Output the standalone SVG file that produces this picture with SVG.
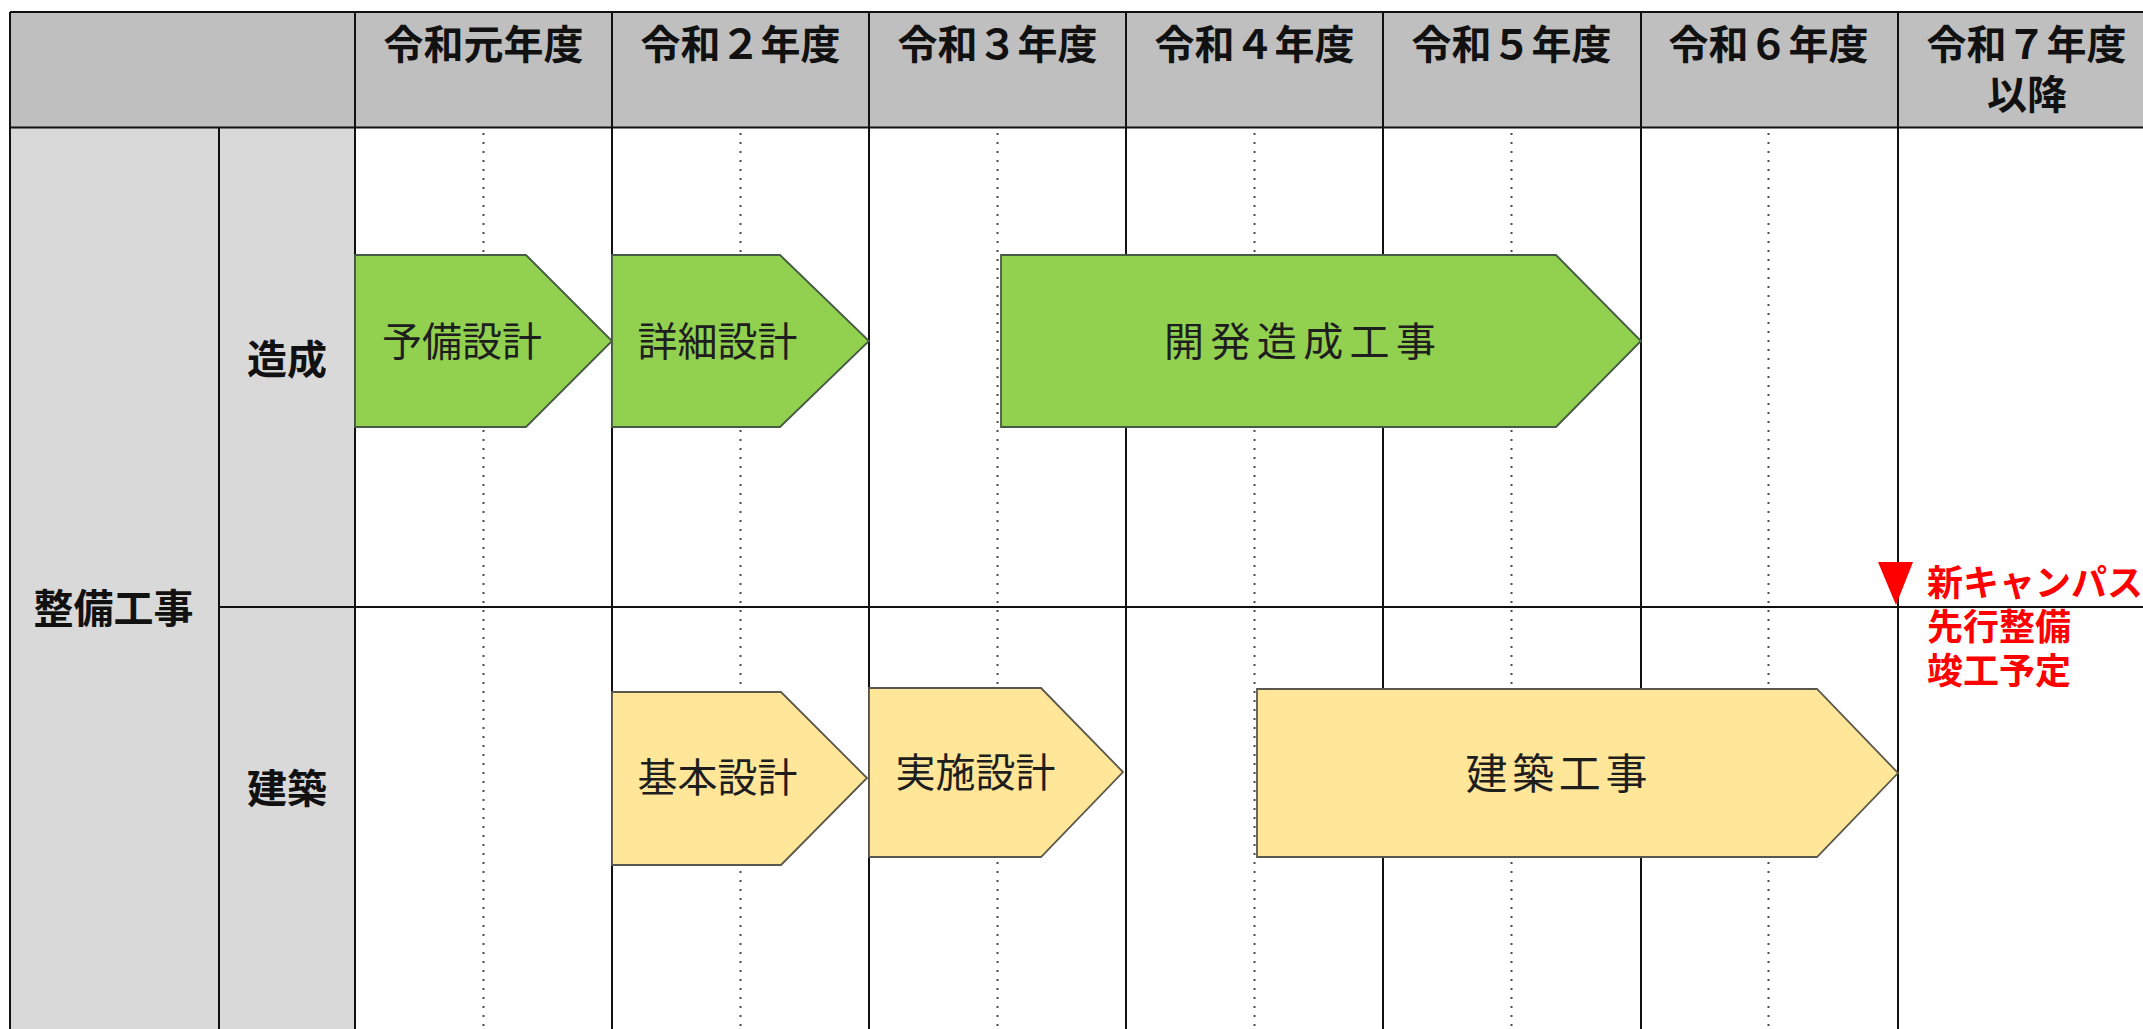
<svg xmlns="http://www.w3.org/2000/svg" width="2143" height="1029" viewBox="0 0 2143 1029">
<style>
.hdr{fill:#bfbfbf}
.side{fill:#d9d9d9}
.grid{stroke:#111;stroke-width:2;fill:none}
.dot{stroke:#4a4a4a;stroke-width:2;stroke-dasharray:2 7;fill:none}
.th{font-family:"Noto Sans CJK JP","Noto Sans",sans-serif;font-weight:700;font-size:40px;fill:#111;text-anchor:middle;dominant-baseline:central}
.lbl{font-family:"Noto Sans CJK JP","Noto Sans",sans-serif;font-weight:400;font-size:40px;fill:#1e1e1e;text-anchor:middle;dominant-baseline:central}
.green{fill:#92d050;stroke:#475a46;stroke-width:1.8}
.yellow{fill:#ffe699;stroke:#5a584c;stroke-width:1.8}
.red{font-family:"Noto Sans CJK JP","Noto Sans",sans-serif;font-weight:700;font-size:36px;fill:#ff0000;dominant-baseline:central}
</style>
<rect x="0" y="0" width="2143" height="1029" fill="#ffffff"/>
<g id="table-background">
<rect class="hdr" x="10" y="12" width="2143" height="115"/>
<rect class="side" x="10" y="127" width="345" height="902"/>
</g>
<g id="guides">
<path class="dot" d="M483.5 133V1029M740.5 133V1029M997.5 133V1029M1254.5 133V1029M1511.5 133V1029M1768.5 133V1029"/>
</g>
<g id="grid">
<path class="grid" d="M10 12H2143M10 12V1029M219 127V1029M355 12V1029M612 12V1029M869 12V1029M1126 12V1029M1383 12V1029M1641 12V1029M1898 12V1029M219 607H2143"/>
<path class="grid" stroke-width="3" d="M10 127.5H2143"/>
</g>
<g id="header">
<text class="th" x="483.5" y="42">令和元年度</text>
<text class="th" x="740.5" y="42">令和２年度</text>
<text class="th" x="997.5" y="42">令和３年度</text>
<text class="th" x="1254.5" y="42">令和４年度</text>
<text class="th" x="1511.5" y="42">令和５年度</text>
<text class="th" x="1768.5" y="42">令和６年度</text>
<text class="th" x="2026.5" y="42">令和７年度</text>
<text class="th" x="2027" y="92">以降</text>
</g>
<g id="side-labels">
<text class="th" x="113.5" y="606">整備工事</text>
<text class="th" x="287" y="357">造成</text>
<text class="th" x="287" y="786">建築</text>
</g>
<g id="node-yobi-sekkei">
<polygon class="green" points="355,255 526,255 612,341 526,427 355,427"/>
<text class="lbl" x="462" y="339">予備設計</text>
</g>
<g id="node-shosai-sekkei">
<polygon class="green" points="612,255 780,255 869,341 780,427 612,427"/>
<text class="lbl" x="717.5" y="339">詳細設計</text>
</g>
<g id="node-kaihatsu-zosei">
<polygon class="green" points="1001,255 1556,255 1641,341 1556,427 1001,427"/>
<text class="lbl" x="1300" y="339" textLength="272">開発造成工事</text>
</g>
<g id="node-kihon-sekkei">
<polygon class="yellow" points="612,692 781,692 867,778 781,865 612,865"/>
<text class="lbl" x="717.5" y="775">基本設計</text>
</g>
<g id="node-jisshi-sekkei">
<polygon class="yellow" points="869,688 1041,688 1123,772 1041,857 869,857"/>
<text class="lbl" x="975.5" y="770">実施設計</text>
</g>
<g id="node-kenchiku-koji">
<polygon class="yellow" points="1257,689 1817,689 1898,773 1817,857 1257,857"/>
<text class="lbl" x="1556.5" y="770" style="font-size:42px" textLength="182">建築工事</text>
</g>
<g id="milestone">
<polygon points="1878,562 1913,562 1896,605" fill="#ff0000"/>
<text class="red" x="1927" y="580">新キャンパス</text>
<text class="red" x="1927" y="624">先行整備</text>
<text class="red" x="1927" y="668">竣工予定</text>
</g>
<g id="connectors"></g>
</svg>
